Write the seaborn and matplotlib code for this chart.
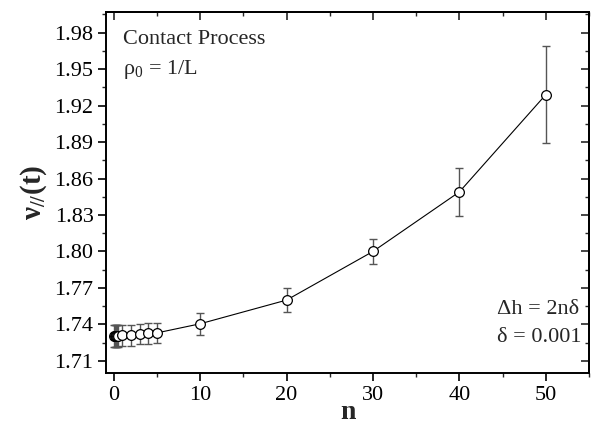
import matplotlib
matplotlib.use("Agg")
import matplotlib.pyplot as plt
import seaborn as sns
import numpy as np
import pandas as pd
from matplotlib.ticker import MultipleLocator

n_values = [0, 0.1, 0.2, 0.3, 0.4, 0.5, 1, 2, 3, 4, 5, 10, 20, 30, 40, 50]
nu_values = [1.7305, 1.7305, 1.7305, 1.7306, 1.7306, 1.7307, 1.731, 1.731, 1.732, 1.7325, 1.733,
             1.7405, 1.760, 1.800, 1.849, 1.929]
nu_errors = [0.009, 0.009, 0.009, 0.009, 0.009, 0.009, 0.0085, 0.0085, 0.0085, 0.0085, 0.0085,
             0.009, 0.010, 0.010, 0.020, 0.040]
x_ticks = [0, 10, 20, 30, 40, 50]
y_ticks = [1.71, 1.74, 1.77, 1.80, 1.83, 1.86, 1.89, 1.92, 1.95, 1.98]

sns.set_style("ticks")
plt.rcParams['font.family'] = ['Liberation Serif', 'DejaVu Serif']
plt.rcParams['mathtext.fontset'] = 'custom'
plt.rcParams['mathtext.rm'] = 'Liberation Serif'
plt.rcParams['mathtext.it'] = 'Liberation Serif:italic'
plt.rcParams['mathtext.bf'] = 'Liberation Serif:bold'

df = pd.DataFrame({"n": n_values, "nu": nu_values, "err": nu_errors})

fig = plt.figure(figsize=(5.93, 4.28), dpi=100)
ax = fig.add_axes([106/593, 1-373/428, (589-106)/593, (373-12)/428])

ax.errorbar(df["n"], df["nu"], yerr=df["err"], fmt='none', ecolor='#555555',
            elinewidth=1.0, capsize=3, capthick=1.0, zorder=2)
sns.lineplot(data=df, x="n", y="nu", ax=ax, color='black', linewidth=0.8,
             marker='o', markersize=7, markerfacecolor='white',
             markeredgecolor='black', markeredgewidth=0.9, zorder=3)

ax.set_xlim(-0.9, 55)
ax.set_ylim(1.700, 1.997)
ax.set_xticks(x_ticks)
ax.set_yticks(y_ticks)
ax.set_yticklabels([f"{v:.2f}" for v in y_ticks])
ax.xaxis.set_minor_locator(MultipleLocator(5))
ax.yaxis.set_minor_locator(MultipleLocator(0.015))
ax.tick_params(which='major', direction='out', length=6, width=1.2, labelsize=16,
               colors='black', pad=3)
ax.tick_params(which='minor', direction='out', length=3, width=1.0)

for s in ax.spines.values():
    s.set_linewidth(1.4)
    s.set_color('black')

top = ax.secondary_xaxis('top')
top.set_xticks(x_ticks)
top.xaxis.set_minor_locator(MultipleLocator(5))
top.tick_params(which='major', direction='in', length=6, width=1.2, labeltop=False)
top.tick_params(which='minor', direction='in', length=3, width=1.0)
top.spines['top'].set_linewidth(1.4)
right = ax.secondary_yaxis('right')
right.set_yticks(y_ticks)
right.yaxis.set_minor_locator(MultipleLocator(0.015))
right.tick_params(which='major', direction='in', length=6, width=1.2, labelright=False)
right.tick_params(which='minor', direction='in', length=3, width=1.0)
right.spines['right'].set_linewidth(1.4)

ax.set_xlabel("n", fontsize=20, fontweight='bold', labelpad=-3)
ax.set_ylabel(r"$\mathbf{ν_{//}(t)}$", fontsize=21, labelpad=4)

ax.text(0.035, 0.95, "Contact Process", transform=ax.transAxes, fontsize=16,
        ha='left', va='top')
ax.text(0.035, 0.84, r"$\mathrm{ρ_0}$ = 1/L", transform=ax.transAxes, fontsize=16,
        ha='left', va='center')
ax.text(0.81, 0.175, "Δh = 2nδ", transform=ax.transAxes, fontsize=16,
        ha='left', va='center')
ax.text(0.81, 0.097, "δ = 0.001", transform=ax.transAxes, fontsize=16,
        ha='left', va='center')

fig.savefig("out.png", dpi=100)
